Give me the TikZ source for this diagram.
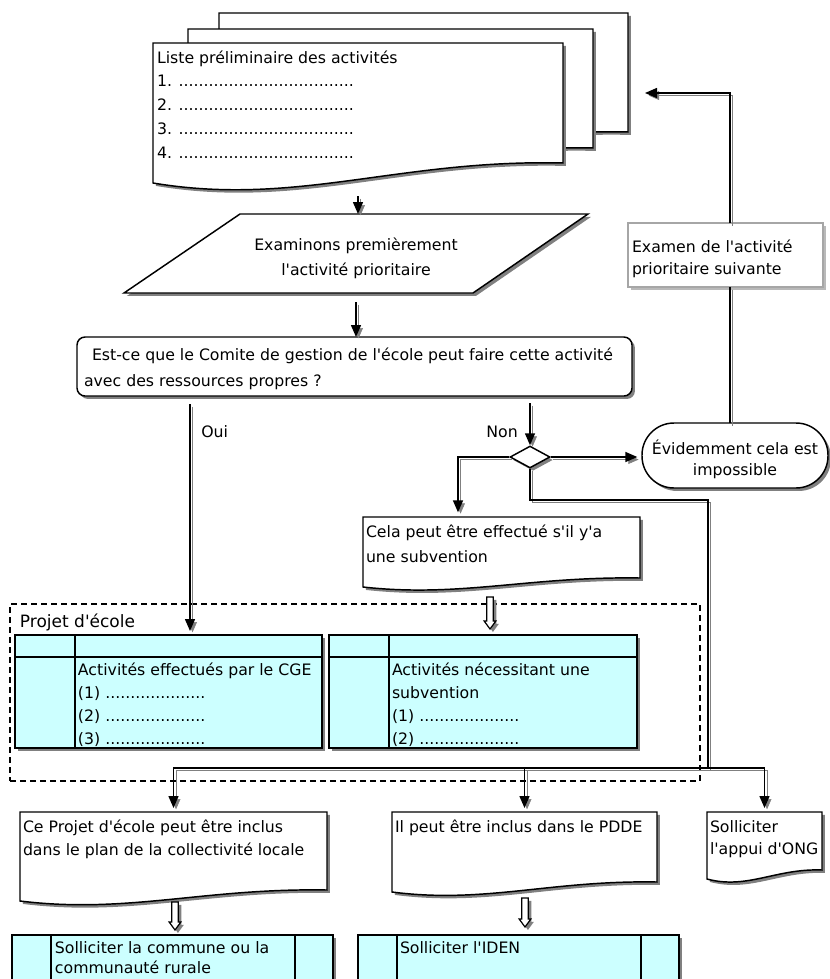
\documentclass[tikz,border=0pt]{standalone}
\usepackage{fontspec}
\setmainfont{DejaVu Sans}[Ligatures=TeXOff]
\usetikzlibrary{calc,shadows,arrows.meta,shapes.geometric}
\pgfdeclarelayer{bg}
\pgfsetlayers{bg,main}
\newlength\px
\setlength\px{0.75pt}
\newcommand\fs{11.8pt}
% width, height, first baseline, left pad, baselineskip, content
\newcommand\tbox[6]{\parbox[t][#2\px][t]{#1\px}{\fontsize{\fs}{#5\px}\selectfont\raggedright\leftskip=#4\px\relax\vspace*{\dimexpr#3\px-15\px\relax}\rule{0pt}{15\px}#6}}
\definecolor{shadowgray}{RGB}{128,128,128}
\definecolor{cyanfill}{RGB}{204,255,255}
\tikzset{
  shadowed/.style={drop shadow={shadow xshift=2.2pt,shadow yshift=-2.2pt,fill=shadowgray,opacity=1}},
  txtnode/.style={anchor=north west,inner sep=0pt,outer sep=0pt},
  docline/.style={draw=black,line width=1.1pt,fill=white,shadowed},
  connline/.style={line width=1.1pt,preaction={draw=shadowgray,transform canvas={shift={(1.9pt,-1.9pt)}}}},
  arrowtip/.style={-{Triangle[length=9pt,width=7.5pt]}},
  hollowarr/.style={draw=black,fill=white,line width=0.9pt,shadowed},
  cyanbox/.style={txtnode,draw=black,line width=1.1pt,fill=cyanfill,shadowed},
  tabline/.style={draw=black,line width=1.1pt},
}
\newcommand\docshape[2]{%
  \path[docline] (#1.north west) -- (#1.north east) -- (#1.south east)
   .. controls ($(#1.south west)!0.6!(#1.south east)+(0,-0.2*#2)$) and ($(#1.south west)!0.35!(#1.south east)+(0,2.2*#2)$) .. ($(#1.south west)+(0,#2)$) -- cycle;}
\newcommand\hollow[2]{%
  \path let \p1=#1, \p2=#2 in [hollowarr]
   (\x1-2.5pt,\y1) -- (\x1+2.5pt,\y1) -- (\x1+2.5pt,\y2+6pt) -- (\x1+4.4pt,\y2+6pt)
   -- (\x1,\y2) -- (\x1-4.4pt,\y2+6pt) -- (\x1-2.5pt,\y2+6pt) -- cycle;}
\begin{document}
\begin{tikzpicture}[x=0.75pt,y=-0.75pt,every node/.style={font=\fontsize{\fs}{18pt}\selectfont}]
\useasboundingbox (0,0) rectangle (829,979);

% ---- stacked list documents
\node[txtnode,minimum width=409\px,minimum height=119\px] (back) at (219,13) {};
\node[txtnode,minimum width=405\px,minimum height=119\px] (middle) at (188,29) {};
\node[txtnode] (front) at (153,43) {\tbox{410}{120}{20}{4}{23.75}{Liste préliminaire des activités\\
1. ...................................\\
2. ...................................\\
3. ...................................\\
4. ...................................}};

% ---- parallelogram
\node[txtnode] (exam) at (124,214) {\tbox{464}{79}{36}{0}{25}{\centering Examinons premièrement\\l'activité prioritaire}};

% ---- question
\node[txtnode,draw=black,line width=1.1pt,fill=white,rounded corners=6pt,shadowed] (q) at (77,337)
  {\tbox{555}{59}{23}{7}{26}{\hspace*{8\px}Est-ce que le Comite de gestion de l'école peut faire cette activité\\avec des ressources propres ?}};

% ---- decision
\node[diamond,draw=black,line width=1.1pt,fill=white,shadowed,minimum width=40\px,minimum height=22\px,inner sep=0pt] (dia) at (530,457) {};

\node[txtnode,draw=black,line width=1.1pt,fill=white,rounded corners=24pt,shadowed] (evid) at (642,423)
  {\tbox{186}{65}{31}{0}{21}{\centering Évidemment cela est\\impossible}};

\node[txtnode,draw=gray!70,line width=0.8pt,fill=white,drop shadow={shadow xshift=2.2pt,shadow yshift=-2.2pt,fill=gray!55,opacity=1}] (examen) at (628,223)
  {\tbox{195}{64}{29}{4}{22}{Examen de l'activité\\prioritaire suivante}};

\node[txtnode] (cela) at (363,517) {\tbox{277}{61}{20}{3}{25}{Cela peut être effectué s'il y'a\\une subvention}};

% ---- projet d'ecole container
\node[txtnode,draw=black,line width=0.9pt,dash pattern=on 4.5pt off 3pt] (proj) at (10,604)
  {\tbox{690}{177}{23}{10}{24}{\fontsize{12.75pt}{18pt}\selectfont Projet d'école}};

\node[cyanbox] (t1) at (15,635) {\tbox{307}{113}{40}{63}{23.3}{Activités effectués par le CGE\\
(1) ....................\\(2) ....................\\(3) ....................}};
\draw[tabline] ($(t1.north west)+(60,0)$) -- ($(t1.south west)+(60,0)$);
\draw[tabline] ($(t1.north west)+(0,22)$) -- ($(t1.north east)+(0,22)$);

\node[cyanbox] (t2) at (329,635) {\tbox{308}{113}{40}{63}{23.3}{Activités nécessitant une\\subvention\\
(1) ....................\\(2) ....................}};
\draw[tabline] ($(t2.north west)+(60,0)$) -- ($(t2.south west)+(60,0)$);
\draw[tabline] ($(t2.north west)+(0,22)$) -- ($(t2.north east)+(0,22)$);

% ---- bottom documents
\node[txtnode] (d1) at (20,812) {\tbox{307}{78}{20}{3}{23}{Ce Projet d'école peut être inclus\\dans le plan de la collectivité locale}};
\node[txtnode] (d2) at (392,812) {\tbox{265}{70}{20}{3}{23}{Il peut être inclus dans le PDDE}};
\node[txtnode] (d3) at (707,812) {\tbox{115}{58}{20}{3}{22}{Solliciter\\l'appui d'ONG}};

% ---- bottom cyan boxes
\node[cyanbox] (b1) at (12,935) {\tbox{321}{55}{18}{43}{20}{Solliciter la commune ou la\\communauté rurale}};
\draw[tabline] ($(b1.north west)+(39,0)$) -- ($(b1.south west)+(39,0)$);
\draw[tabline] ($(b1.north west)+(283,0)$) -- ($(b1.south west)+(283,0)$);
\node[cyanbox] (b2) at (358,935) {\tbox{321}{55}{18}{42}{20}{Solliciter l'IDEN}};
\draw[tabline] ($(b2.north west)+(39,0)$) -- ($(b2.south west)+(39,0)$);
\draw[tabline] ($(b2.north west)+(283,0)$) -- ($(b2.south west)+(283,0)$);

% ---- shapes drawn behind the texts
\begin{pgfonlayer}{bg}
\docshape{back}{20}
\docshape{middle}{20}
\docshape{front}{20}
\path[docline] ($(exam.north west)+(116,0)$) -- (exam.north east) -- ($(exam.south east)+(-115,0)$) -- (exam.south west) -- cycle;
\docshape{cela}{9}
\docshape{d1}{11}
\docshape{d2}{10}
\docshape{d3}{9}
\end{pgfonlayer}

% ---- labels
\node[anchor=west,inner sep=0pt] (oui) at (201,432) {Oui};
\node[anchor=east,inner sep=0pt] (non) at (518,432) {Non};

% ---- connectors
\draw[connline,arrowtip] (front.south) ++(0,33) coordinate (c1) -- (c1 |- exam.north);
\draw[connline,arrowtip] (exam.south) ++(0,9) coordinate (c2) -- (c2 |- q.north);
\draw[connline,arrowtip,shorten >=3pt] (q.south west) ++(113,8) coordinate (c3) -- (c3 |- t1.north);
\draw[connline,arrowtip] (q.south -| dia.north) ++(0,7) -- (dia.north);
\draw[connline,arrowtip,shorten >=3.5pt] (dia.west) -| ($(cela.north west)+(95,0)$);
\draw[connline,arrowtip,shorten >=3.5pt] (dia.east) -- (dia.east -| evid.west);

\coordinate (j1) at (708,500);
\coordinate (j2) at (708,768);
\draw[connline] (dia.south) |- (j1) -- (j2);
\draw[connline,arrowtip,shorten >=3pt] (j2) -| (d1.north);
\draw[connline,arrowtip,shorten >=3pt] (j2) -| (d2.north);
\draw[connline,arrowtip,shorten >=3pt] (j2) -| (d3.north);

\draw[connline] ($(examen.south)+(4.5,0)$) coordinate (c8) -- (c8 |- evid.north);
\draw[connline,arrowtip] ($(examen.north)+(4.5,0)$) |- ($(back.north east)+(17,80)$);

% ---- hollow arrows
\coordinate (h1s) at ($(cela.south west)+(127,19)$);
\hollow{(h1s)}{($(h1s |- t2.north)+(0,-6)$)}
\coordinate (h2s) at ($(d1.south west)+(155,12)$);
\hollow{(h2s)}{($(h2s |- b1.north)+(0,-5)$)}
\coordinate (h3s) at ($(d2.south west)+(133,16)$);
\hollow{(h3s)}{($(h3s |- b2.north)+(0,-8)$)}
\end{tikzpicture}
\end{document}
